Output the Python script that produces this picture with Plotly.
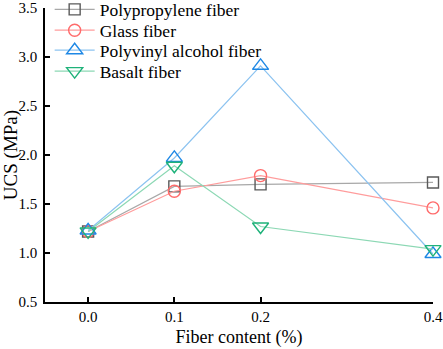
import plotly.graph_objects as go

fiber_content = [0.0, 0.1, 0.2, 0.4]
polypropylene = [1.22, 1.68, 1.70, 1.72]
glass = [1.22, 1.63, 1.79, 1.46]
polyvinyl_alcohol = [1.23, 1.97, 2.91, 0.99]
basalt = [1.22, 1.89, 1.27, 1.04]
x_tick_labels = ["0.0", "0.1", "0.2", "0.4"]
y_ticks = [0.5, 1.0, 1.5, 2.0, 2.5, 3.0, 3.5]
y_tick_labels = ["0.5", "1.0", "1.5", "2.0", "2.5", "3.0", "3.5"]

series = [
    ("Polypropylene fiber", polypropylene, "square-open", "#5a5a5a", "#a8a8a8", 11),
    ("Glass fiber", glass, "circle-open", "#ff6b6b", "#ff9c9c", 12),
    ("Polyvinyl alcohol fiber", polyvinyl_alcohol, "triangle-up-open", "#1e88e5", "#8cc3f0", 14),
    ("Basalt fiber", basalt, "triangle-down-open", "#1fb27a", "#8cd8b4", 14),
]
legend_ids = ["legend", "legend2", "legend3", "legend4"]
legend_y = [0.995, 0.924, 0.856, 0.785]

font = "Liberation Serif, Times New Roman, serif"
fig = go.Figure()
for (name, vals, sym, mcol, lcol, size), lid in zip(series, legend_ids):
    fig.add_trace(go.Scatter(
        x=fiber_content, y=vals, name=name, mode="lines+markers",
        line=dict(color=lcol, width=1.2),
        marker=dict(symbol=sym, size=size, color=mcol, line=dict(color=mcol, width=1.4)),
        cliponaxis=False, legend=lid,
    ))

legend_layout = {}
for lid, ly in zip(legend_ids, legend_y):
    legend_layout[lid] = dict(
        x=0.012, y=ly, xanchor="left", yanchor="middle",
        font=dict(family=font, size=17.5, color="black"),
        bgcolor="rgba(0,0,0,0)", itemwidth=40,
    )

fig.update_layout(
    width=443, height=349,
    margin=dict(l=45, r=10, t=8, b=47, autoexpand=False),
    plot_bgcolor="white", paper_bgcolor="white",
    font=dict(family=font, color="black"),
    showlegend=True,
    xaxis=dict(
        range=[-0.05, 0.4], tickvals=fiber_content, ticktext=x_tick_labels,
        showgrid=False, zeroline=False, showline=True, linecolor="black", linewidth=1.5,
        ticks="inside", ticklen=5, tickwidth=1.5, tickcolor="black",
        tickfont=dict(family=font, size=15), automargin=False, ticklabeloverflow="allow",
        title=dict(text="Fiber content (%)", font=dict(family=font, size=18), standoff=7),
    ),
    yaxis=dict(
        range=[0.5, 3.5], tickvals=y_ticks, ticktext=y_tick_labels,
        showgrid=False, zeroline=False, showline=True, linecolor="black", linewidth=1.5,
        ticks="inside", ticklen=5, tickwidth=1.5, tickcolor="black",
        tickfont=dict(family=font, size=15), automargin=False, ticklabeloverflow="allow",
        ticklabelstandoff=3,
        title=dict(text="UCS (MPa)", font=dict(family=font, size=19), standoff=4),
    ),
    **legend_layout,
)

# remove the page's default 8px body margin so the figure fills the window
fig.write_html(
    "out.html",
    config={"displayModeBar": False},
    post_script="document.body.style.margin='0';document.body.style.overflow='hidden';",
)
